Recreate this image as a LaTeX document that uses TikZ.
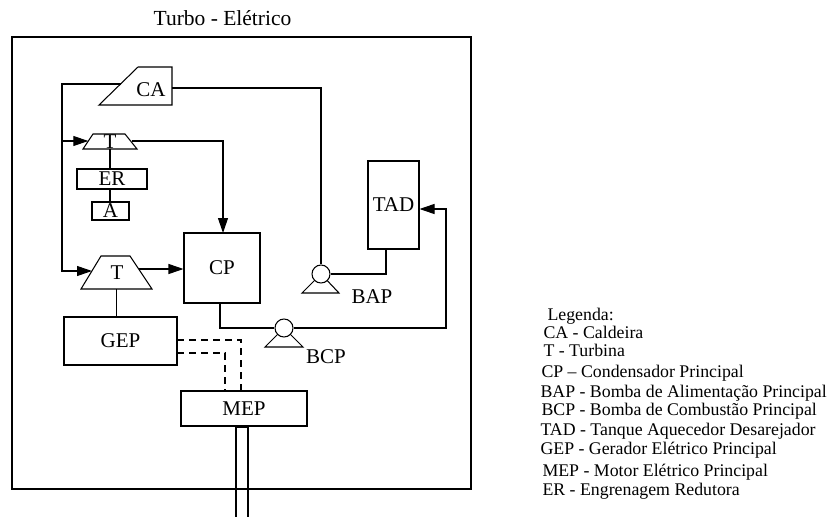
\documentclass[tikz,border=0pt]{standalone}
\usepackage{fontspec}
\setmainfont{Liberation Serif}
\usetikzlibrary{arrows.meta}
\begin{document}
\begin{tikzpicture}[x=1pt,y=-1pt, line width=1.05pt,
  box/.style={draw, rectangle, inner sep=0pt, font=\fontsize{21}{21}\selectfont},
  lbl/.style={inner sep=0pt, font=\fontsize{21}{21}\selectfont},
  leg/.style={inner sep=0pt, anchor=base west, font=\fontsize{17.8}{20}\selectfont},
  flow/.style={-{Triangle[length=15pt,width=10pt]}},
  elec/.style={dash pattern=on 7pt off 5pt},
  pumpc/.style={circle, draw, fill=white, minimum size=18pt, inner sep=0pt}]
\useasboundingbox (0,0) rectangle (828,517);

% title
\node[lbl, font=\fontsize{21.5}{21.5}\selectfont] (title) at (222.5,18) {Turbo - Elétrico};

% shaft (drawn first so the frame crosses it)
\coordinate (sh1) at (236,427);
\coordinate (sh2) at (248,427);
\draw (236,525) -- (sh1) -- (sh2) -- (248,525);

% frame
\draw (12,37) rectangle (471,489);

% CA - caldeira
\draw (99,105) -- (138,67) -- (172,67) -- (172,105) -- cycle;
\node[lbl] (CA) at (151,90) {CA};
\coordinate (caL) at (120.5,84);
\coordinate (caR) at (172,88);

% top turbine
\draw (83,149) -- (93,134) -- (125,134) -- (137,149) -- cycle;
\node[lbl] (T1) at (110,141.5) {T};
\coordinate (t1L) at (88.3,141);
\coordinate (t1R) at (131.6,141);
\coordinate (t1B) at (110,149);

% ER and A
\node[box, minimum width=70pt, minimum height=20pt] (ER) at (112,179) {ER};
\node[box, minimum width=37pt, minimum height=18pt] (A) at (110.5,211) {A};

% bottom turbine
\draw (81,289) -- (101,256) -- (130,256) -- (152,289) -- cycle;
\node[lbl] (T2) at (117,273) {T};
\coordinate (t2L) at (92,271);
\coordinate (t2R) at (138.7,269);
\coordinate (t2B) at (116.5,289);

% boxes
\node[box, minimum width=76pt, minimum height=70pt] (CP) at (222,268) {CP};
\node[box, minimum width=51pt, minimum height=88pt] (TAD) at (393.5,205) {TAD};
\node[box, minimum width=113pt, minimum height=48pt] (GEP) at (120.5,341) {GEP};
\node[box, minimum width=126pt, minimum height=35pt] (MEP) at (244,408.5) {MEP};

% pumps
\draw (284,328) -- (265,347) -- (303,347) -- cycle;
\node[pumpc] (BCP) at (284,328) {};
\draw (321,274) -- (302,293) -- (339,293) -- cycle;
\node[pumpc] (BAP) at (321,274) {};
\node[lbl] (BAPl) at (372,297) {BAP};
\node[lbl] (BCPl) at (326,357) {BCP};

% named points for connectors
\coordinate (bus) at (62,84);
\coordinate (busT) at (62,141);
\coordinate (busB) at (62,271);
\coordinate (cpIn) at (223,233);
\coordinate (cpOut) at (220,303);
\coordinate (tadOut) at (386,249);
\coordinate (ret) at (446,209);
\coordinate (g1) at (177,340);
\coordinate (g2) at (177,353);
\coordinate (m1) at (241,391);
\coordinate (m2) at (225,391);

% steam lines
\draw[flow] (caL) -- (bus) -- (busB) -- (t2L);
\draw[flow] (busT) -- (t1L);
\draw[flow] (t1R) -| (cpIn);
\draw[flow] (t2R) -- (t2R -| CP.west);
\draw (t1B) -- (t1B |- ER.north);
\draw (ER.south -| t1B) -- (A.north -| t1B);
\draw (t2B) -- (t2B |- GEP.north);

% water lines
\draw (caR) -| (BAP.north);
\draw (BAP.east) -| (tadOut);
\draw (cpOut) |- (BCP.west);
\draw[flow] (BCP.east) -| (ret) -- (ret -| TAD.east);

% electric lines
\draw[elec] (g1) -| (m1);
\draw[elec] (g2) -| (m2);

% legend
\node[leg] (lg0) at (547,320) {Legenda:};
\node[leg] (lg1) at (543,338) {CA - Caldeira};
\node[leg] (lg2) at (543,356) {T - Turbina};
\node[leg] (lg3) at (541,377) {CP -- Condensador Principal};
\node[leg] (lg4) at (540,397) {BAP - Bomba de Alimentação Principal};
\node[leg] (lg5) at (541,415) {BCP - Bomba de Combustão Principal};
\node[leg] (lg6) at (540,435) {TAD - Tanque Aquecedor Desarejador};
\node[leg] (lg7) at (540,454) {GEP - Gerador Elétrico Principal};
\node[leg] (lg8) at (542,476) {MEP - Motor Elétrico Principal};
\node[leg] (lg9) at (542,495) {ER - Engrenagem Redutora};
\end{tikzpicture}
\end{document}
